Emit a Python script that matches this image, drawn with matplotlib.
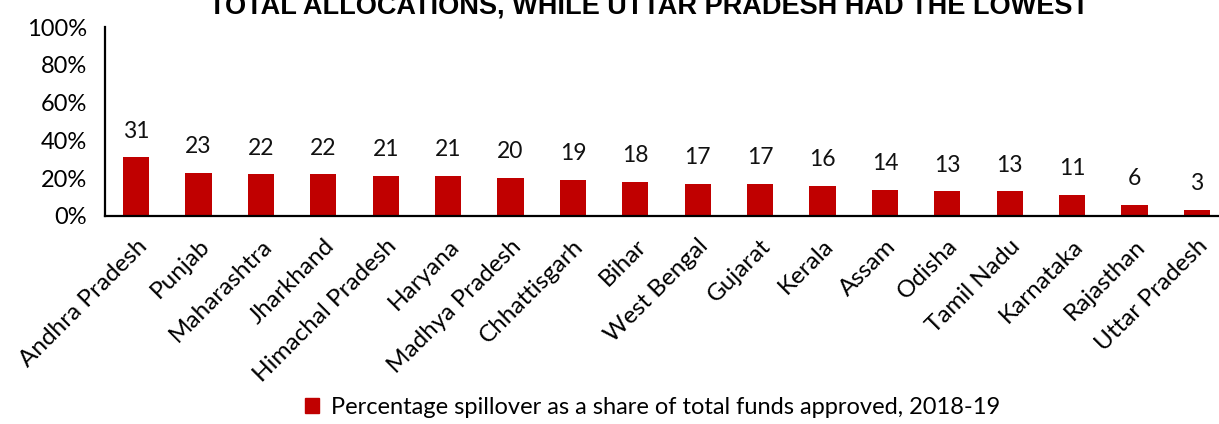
import matplotlib.pyplot as plt
from matplotlib.patches import Patch

states = ["Andhra Pradesh", "Punjab", "Maharashtra", "Jharkhand", "Himachal Pradesh",
          "Haryana", "Madhya Pradesh", "Chhattisgarh", "Bihar", "West Bengal",
          "Gujarat", "Kerala", "Assam", "Odisha", "Tamil Nadu", "Karnataka",
          "Rajasthan", "Uttar Pradesh"]
spillover = [31, 23, 22, 22, 21, 21, 20, 19, 18, 17, 17, 16, 14, 13, 13, 11, 6, 3]
y_ticks = [0, 20, 40, 60, 80, 100]

plt.rcParams['font.family'] = ['Lato', 'DejaVu Sans']
red = "#C00000"

fig = plt.figure(figsize=(12.19, 4.24), dpi=100)
ax = fig.add_axes([105 / 1219, 1 - 216 / 424, 1123 / 1219, 189 / 424])

x = range(len(states))
ax.bar(x, spillover, width=0.42, color=red, zorder=2)

for i, v in enumerate(spillover):
    ax.annotate(str(v), (i, v), xytext=(0, 19), textcoords="offset points",
                ha="center", va="center", fontsize=16.5, color="#111111")

ax.set_xlim(-0.5, len(states) - 0.5)
ax.set_ylim(0, 100)
ax.set_yticks(y_ticks)
ax.set_yticklabels([f"{t}%" for t in y_ticks], fontsize=17)
ax.set_xticks(list(x))
ax.set_xticklabels(states, rotation=45, ha="right", rotation_mode="anchor", fontsize=17.5)
ax.tick_params(axis="both", length=0)
ax.tick_params(axis="x", pad=14)
ax.tick_params(axis="y", pad=13)

for s in ["top", "right"]:
    ax.spines[s].set_visible(False)
ax.spines["left"].set_linewidth(1.6)
ax.spines["bottom"].set_linewidth(1.6)

fig.text(0.532, 1 - 14 / 424, "TOTAL ALLOCATIONS, WHILE UTTAR PRADESH HAD THE LOWEST",
         ha="center", va="baseline", fontsize=19.5, fontweight="bold",
         family=["Liberation Sans Narrow", "Liberation Sans", "DejaVu Sans"])

fig.legend(handles=[Patch(color=red, label="Percentage spillover as a share of total funds approved, 2018-19")],
           loc="lower center", bbox_to_anchor=(0.535, -0.035), frameon=False,
           fontsize=17, handlelength=0.6, handleheight=0.6, handletextpad=0.5)

fig.savefig("out.png", dpi=100)
